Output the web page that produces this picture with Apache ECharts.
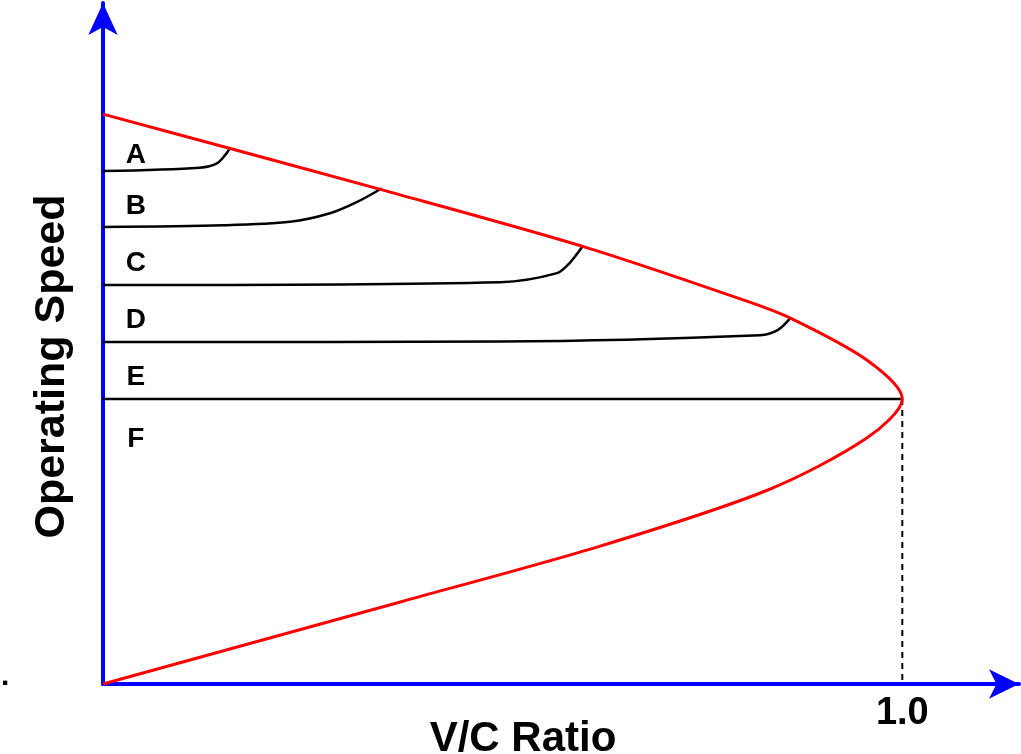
<!DOCTYPE html>
<html>
<head>
<meta charset="utf-8">
<script src="https://cdn.jsdelivr.net/npm/echarts@6/dist/echarts.min.js"></script>
<style>
html,body{margin:0;padding:0;background:#fff;}
#chart{width:1021px;height:754px;}
</style>
</head>
<body>
<div id="chart"></div>
<script>
// Boundary (red) curve: V/C ratio vs operating speed (upper branch, nose, lower branch)
const redVC    = [0, 0.158, 0.347, 0.600, 0.801, 0.860, 0.956, 1.0, 0.956, 0.831, 0.622, 0.372, 0];
const redSpeed = [100, 94.0, 86.8, 76.8, 67.4, 64.2, 56.8, 50, 43.2, 34.0, 24.2, 14.4, 0];

// Level-of-service speed curves
const aVC = [0, 0.121, 0.143, 0.155, 0.159];
const aSpeed = [90.0, 90.6, 91.4, 93.2, 94.2];
const bVC = [0, 0.150, 0.234, 0.284, 0.318, 0.349];
const bSpeed = [80.2, 80.5, 81.1, 82.6, 84.6, 87.0];
const cVC = [0, 0.497, 0.568, 0.584, 0.600];
const cSpeed = [70.0, 70.5, 72.1, 73.9, 76.8];
const dVC = [0, 0.497, 0.822, 0.844, 0.860];
const dSpeed = [60.0, 60.1, 61.2, 62.1, 64.2];
const eVC = [0, 1.0];
const eSpeed = [50, 50];

// Capacity marker (dashed)
const capVC = [1.0, 1.0];
const capSpeed = [50, 0];

// Level labels
const levelLabels = ['A', 'B', 'C', 'D', 'E', 'F'];
const labelSpeed = [92.7, 83.9, 73.9, 63.9, 53.9, 43.0];
const labelVC = 0.041;

// Axes
const xMax = 1.146;
const yMax = 119.5;
const xTickLabel = '1.0';

function zip(xs, ys) { return xs.map((x, i) => [x, ys[i]]); }

const FONT = '"Liberation Sans", Arial, Helvetica, sans-serif';
const chart = echarts.init(document.getElementById('chart'));

const blackLine = (name, xs, ys) => ({
  name, type: 'line', data: zip(xs, ys), smooth: 0.3, symbol: 'none',
  lineStyle: { color: '#000', width: 2.5 }, z: 2, silent: true
});

chart.setOption({
  animation: false,
  backgroundColor: '#fff',
  grid: { left: 103, right: 2, top: 3, bottom: 70, containLabel: false, outerBoundsMode: 'none' },
  xAxis: {
    type: 'value', min: 0, max: xMax, interval: 0.5,
    name: 'V/C Ratio', nameLocation: 'middle', nameGap: 34, nameMoveOverlap: false,
    nameTextStyle: { fontFamily: FONT, fontWeight: 'bold', fontSize: 42, color: '#000', padding: [0, 76, 0, 0] },
    axisLine: { show: true, symbol: ['none', 'arrow'], symbolSize: [22, 30],
      lineStyle: { color: '#0000ff', width: 4 } },
    axisTick: { show: false },
    splitLine: { show: false },
    axisLabel: {
      margin: 11, fontFamily: FONT, fontWeight: 'bold', fontSize: 38, color: '#000',
      showMinLabel: false, showMaxLabel: false,
      formatter: v => (Math.abs(v - 1) < 1e-9 ? xTickLabel : '')
    }
  },
  yAxis: {
    type: 'value', min: 0, max: yMax,
    name: 'Operating Speed', nameLocation: 'middle', nameGap: 29, nameRotate: 90, nameMoveOverlap: false,
    nameTextStyle: { fontFamily: FONT, fontWeight: 'bold', fontSize: 43, color: '#000', padding: [0, 46, 0, 0] },
    axisLine: { show: true, symbol: ['none', 'arrow'], symbolSize: [22, 32],
      lineStyle: { color: '#0000ff', width: 4 } },
    axisTick: { show: false },
    splitLine: { show: false },
    axisLabel: { show: false }
  },
  graphic: [{
    type: 'text', left: 1, top: 662,
    style: { text: '.', font: 'bold 30px ' + FONT, fill: '#000' }
  }],
  series: [
    blackLine('A', aVC, aSpeed),
    blackLine('B', bVC, bSpeed),
    blackLine('C', cVC, cSpeed),
    blackLine('D', dVC, dSpeed),
    blackLine('E', eVC, eSpeed),
    {
      name: 'capacity', type: 'line', data: zip(capVC, capSpeed), symbol: 'none',
      lineStyle: { color: '#000', width: 2, type: [6, 5] }, z: 1, silent: true
    },
    {
      name: 'boundary', type: 'line', data: zip(redVC, redSpeed), smooth: 0.3, symbol: 'none',
      lineStyle: { color: '#ff0000', width: 3 }, z: 3, silent: true
    },
    {
      name: 'levels', type: 'scatter', symbolSize: 0, silent: true,
      itemStyle: { opacity: 1 },
      data: levelLabels.map((l, i) => ({ name: l, value: [labelVC, labelSpeed[i]] })),
      label: { show: true, position: 'inside', formatter: p => p.name, opacity: 1,
        fontFamily: FONT, fontWeight: 'bold', fontSize: 28, color: '#000',
        textBorderWidth: 0 }
    }
  ]
});
</script>
</body>
</html>
